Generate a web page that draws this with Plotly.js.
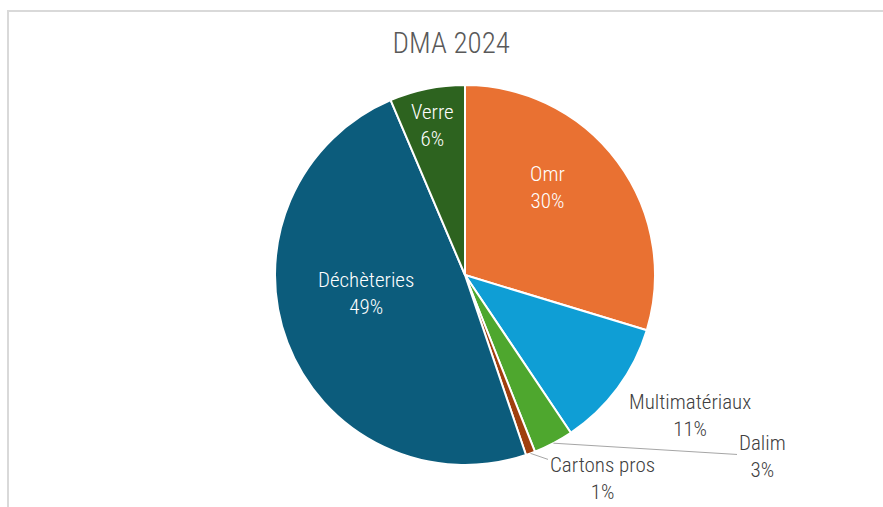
<!DOCTYPE html>
<html>
<head>
<meta charset="utf-8">
<script src="https://cdn.plot.ly/plotly-3.0.1.min.js"></script>
<style>
html,body{margin:0;padding:0;background:#fff;}
#frame{position:absolute;left:7px;top:10px;width:900px;height:520px;border-top:2px solid #d9d9d9;border-left:2px solid #d9d9d9;box-sizing:border-box;}
#chart{position:absolute;left:0;top:0;width:883px;height:507px;}
</style>
</head>
<body>
<div id="frame"></div>
<div id="chart"></div>
<script>
const categories = ["Omr", "Multimatériaux", "Dalim", "Cartons pros", "Déchèteries", "Verre"];
const values = [29.7, 10.9, 3.4, 0.8, 48.8, 6.4];
const colors = ["#E97132", "#0F9ED5", "#4EA72E", "#9F3F0E", "#0C5C7C", "#2D631F"];
const labelColors = ["#ffffff", "#404040", "#404040", "#404040", "#ffffff", "#ffffff"];
// label text centres (px) and whether a leader line joins them to the slice edge
const labelCentres = [[547, 187], [690, 415], [762, 456], [602, 478], [366, 293], [432, 125]];
const leaderLines = [false, false, true, true, false, false];

const font = "'Roboto Condensed', 'Liberation Sans Narrow', 'Arial Narrow', Roboto, sans-serif";

const total = values.reduce((a, b) => a + b, 0);
const pctText = values.map(v => Math.round(v / total * 100) + "%");

const trace = {
  type: "pie",
  labels: categories,
  values: values,
  sort: false,
  direction: "clockwise",
  rotation: 0,
  marker: {colors: colors, line: {color: "#ffffff", width: 2}},
  textposition: "none",
  showlegend: false,
  hoverinfo: "label+percent"
};

// plot area geometry (paper = pie domain)
const W = 883, H = 507;
const margin = {l: 275, r: 228, t: 85, b: 42};
const pw = W - margin.l - margin.r, ph = H - margin.t - margin.b;
const cx = margin.l + pw / 2, cy = margin.t + ph / 2, R = Math.min(pw, ph) / 2;
const toPaper = (px, py) => [(px - margin.l) / pw, (H - margin.b - py) / ph];

const annotations = [];
let cum = 0;
values.forEach((v, i) => {
  const mid = (cum + v / 2) / total * 2 * Math.PI;
  cum += v;
  const txt = categories[i] + "<br>" + pctText[i];
  const common = {text: txt, font: {family: font, size: 21, color: labelColors[i], weight: 300},
                  xref: "paper", yref: "paper", align: "center",
                  xanchor: "center", yanchor: "middle"};
  const [lx, ly] = labelCentres[i];
  if (!leaderLines[i]) {
    const [x, y] = toPaper(lx, ly);
    annotations.push(Object.assign({x: x, y: y, showarrow: false}, common));
  } else {
    const ex = cx + R * Math.sin(mid), ey = cy - R * Math.cos(mid);
    const [x, y] = toPaper(ex, ey);
    annotations.push(Object.assign({x: x, y: y, ax: lx - ex, ay: ly - ey, showarrow: true,
      arrowhead: 0, arrowwidth: 1, arrowcolor: "#a6a6a6", standoff: 0, startstandoff: 0}, common));
  }
});

const layout = {
  width: W,
  height: H,
  paper_bgcolor: "rgba(0,0,0,0)",
  plot_bgcolor: "rgba(0,0,0,0)",
  margin: margin,
  title: {
    text: "DMA 2024",
    font: {family: font, size: 29, color: "#595959", weight: 300},
    x: 0.511, xanchor: "center",
    y: 0.915, yanchor: "middle", yref: "container"
  },
  annotations: annotations,
  showlegend: false
};

Plotly.newPlot("chart", [trace], layout, {displayModeBar: false, staticPlot: true});
</script>
</body>
</html>
